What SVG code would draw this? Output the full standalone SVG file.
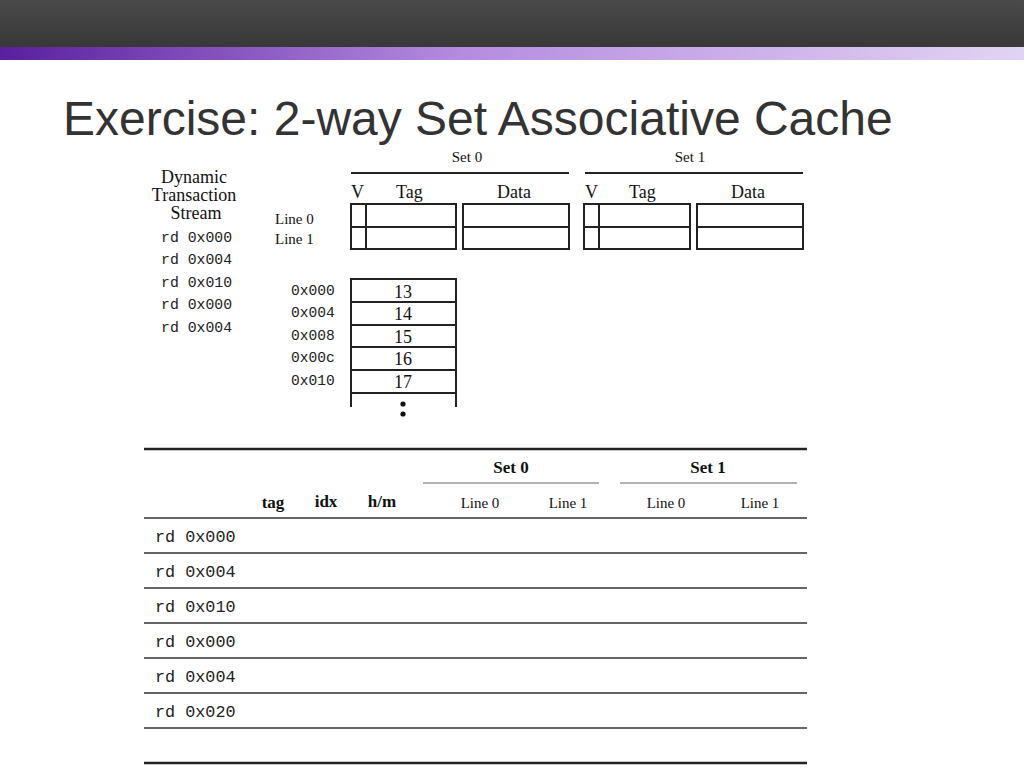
<svg xmlns="http://www.w3.org/2000/svg" width="1024" height="768" viewBox="0 0 1024 768">
<defs>
<linearGradient id="bar" x1="0" y1="0" x2="0" y2="1"><stop offset="0" stop-color="#4a4a4a"/><stop offset="1" stop-color="#383838"/></linearGradient>
<linearGradient id="pur" x1="0" y1="0" x2="1" y2="0"><stop offset="0" stop-color="#5a1f9e"/><stop offset="0.45" stop-color="#b58be0"/><stop offset="1" stop-color="#e2d4f4"/></linearGradient>
<style>
.s{font-family:"Liberation Serif",serif;fill:#111}
.m{font-family:"Liberation Mono",monospace;fill:#222}
.b{fill:none;stroke:#222;stroke-width:2}
.t{stroke:#222;stroke-width:2}
.th{stroke:#666;stroke-width:1}
</style>
</defs>
<rect width="1024" height="768" fill="#fff"/>
<rect width="1024" height="47" fill="url(#bar)"/>
<rect y="47" width="1024" height="13" fill="url(#pur)"/>
<text x="63" y="135" font-family="Liberation Sans,Arial,sans-serif" font-size="48" letter-spacing="0" fill="#333">Exercise: 2-way Set Associative Cache</text>

<g id="stream">
<text class="s" font-size="18" text-anchor="middle"><tspan x="194" y="183">Dynamic</tspan><tspan x="194" y="201">Transaction</tspan><tspan x="196" y="219">Stream</tspan></text>
<text class="m" font-size="14.8"><tspan x="161" y="242">rd 0x000</tspan><tspan x="161" y="264">rd 0x004</tspan><tspan x="161" y="287">rd 0x010</tspan><tspan x="161" y="309">rd 0x000</tspan><tspan x="161" y="332">rd 0x004</tspan></text>
</g>

<g id="cache">
<text class="s" font-size="15" x="467" y="162" text-anchor="middle">Set 0</text>
<text class="s" font-size="15" x="690" y="162" text-anchor="middle">Set 1</text>
<line class="t" x1="351" y1="173" x2="569" y2="173"/>
<line class="t" x1="585" y1="173" x2="803" y2="173"/>
<g class="s" font-size="18">
<text x="351" y="198">V</text><text x="396" y="198">Tag</text><text x="497" y="198">Data</text>
<text x="585" y="198">V</text><text x="629" y="198">Tag</text><text x="731" y="198">Data</text>
</g>
<text class="s" font-size="15" x="275" y="224">Line 0</text>
<text class="s" font-size="15" x="275" y="244">Line 1</text>
<rect class="b" x="351" y="204" width="105" height="45"/>
<line class="t" x1="366" y1="204" x2="366" y2="249"/>
<line class="t" x1="351" y1="227" x2="456" y2="227"/>
<rect class="b" x="463" y="204" width="106" height="45"/>
<line class="t" x1="463" y1="227" x2="569" y2="227"/>
<rect class="b" x="584" y="204" width="106" height="45"/>
<line class="t" x1="599" y1="204" x2="599" y2="249"/>
<line class="t" x1="584" y1="227" x2="690" y2="227"/>
<rect class="b" x="697" y="204" width="106" height="45"/>
<line class="t" x1="697" y1="227" x2="803" y2="227"/>
</g>

<g id="memory">
<path class="b" d="M351,407V279H456V407M351,302H456M351,325H456M351,347H456M351,370H456M351,393H456"/>
<g class="s" font-size="18" text-anchor="middle">
<text x="403" y="298">13</text><text x="403" y="320">14</text><text x="403" y="343">15</text><text x="403" y="365">16</text><text x="403" y="388">17</text>
</g>
<circle cx="403" cy="404" r="2.6" fill="#111"/><circle cx="403" cy="414" r="2.6" fill="#111"/>
<text class="m" font-size="14.6"><tspan x="291" y="295">0x000</tspan><tspan x="291" y="317">0x004</tspan><tspan x="291" y="340">0x008</tspan><tspan x="291" y="362">0x00c</tspan><tspan x="291" y="385">0x010</tspan></text>
</g>

<g id="table">
<line x1="144" y1="449" x2="807" y2="449" stroke="#222" stroke-width="2.5"/>
<text class="s" font-size="17" font-weight="bold" x="511" y="473" text-anchor="middle">Set 0</text>
<text class="s" font-size="17" font-weight="bold" x="708" y="473" text-anchor="middle">Set 1</text>
<line class="th" x1="423" y1="483" x2="599" y2="483"/>
<line class="th" x1="620" y1="483" x2="797" y2="483"/>
<g class="s" font-size="17" font-weight="bold" text-anchor="middle">
<text x="273" y="508">tag</text><text x="326" y="507">idx</text><text x="382" y="507">h/m</text>
</g>
<g class="s" font-size="15" text-anchor="middle">
<text x="480" y="508">Line 0</text><text x="568" y="508">Line 1</text><text x="666" y="508">Line 0</text><text x="760" y="508">Line 1</text>
</g>
<path d="M144,518H807M144,553H807M144,588H807M144,623H807M144,658H807M144,693H807M144,728H807" stroke="#333" stroke-width="1.5"/>
<line x1="144" y1="763" x2="807" y2="763" stroke="#222" stroke-width="2.5"/>
<text class="m" font-size="16.8"><tspan x="155" y="542">rd 0x000</tspan><tspan x="155" y="577">rd 0x004</tspan><tspan x="155" y="612">rd 0x010</tspan><tspan x="155" y="647">rd 0x000</tspan><tspan x="155" y="682">rd 0x004</tspan><tspan x="155" y="717">rd 0x020</tspan></text>
</g>
</svg>
